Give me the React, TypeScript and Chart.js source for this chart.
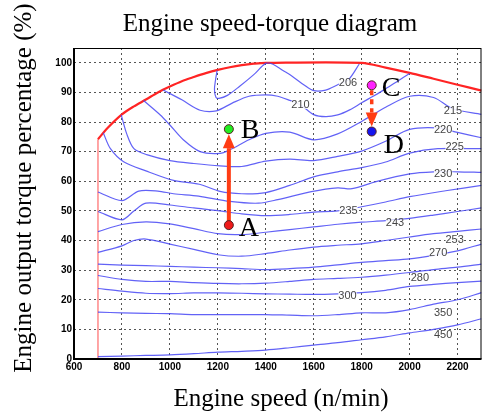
import React, { useEffect, useRef } from 'react';
import { Chart, registerables } from 'chart.js';
Chart.register(...registerables);

const xTicks = [600, 800, 1000, 1200, 1400, 1600, 1800, 2000, 2200];
const yTicks = [0, 10, 20, 30, 40, 50, 60, 70, 80, 90, 100];

const boundary = [[700,74.2],[740,78],[800,82.6],[850,85.3],[900,87.6],[950,90],[1000,92],[1050,93.8],[1100,95.2],[1150,96.5],[1200,97.6],[1250,98.5],[1300,99.2],[1350,99.7],[1400,100],[1800,100],[1900,98.4],[2000,96.6],[2100,94.6],[2200,92.6],[2300,90.6]];
const idleEdge = [[700,0],[700,74.2]];

const c206 = [[1197,97.4],[1190,94],[1186,91],[1192,88.4],[1205,88],[1240,89],[1290,92],[1350,96],[1400,99.8],[1430,99.5],[1470,97.5],[1510,95.5],[1560,92.5],[1600,90.6],[1650,90.8],[1700,92.6],[1745,94.3],[1790,99.6]];
const c210 = [[972,90.8],[1050,87.5],[1126,84],[1194,83.8],[1260,86.4],[1330,88.7],[1400,89.2],[1450,88.7],[1500,87.3],[1545,85.8],[1600,82.5],[1650,81.8],[1700,82.4],[1750,84.1],[1800,86.5],[1850,88.8],[1900,91.2],[1950,93.8],[2000,96.4]];
const c215 = [[890,87.3],[960,82.4],[1000,79],[1056,74],[1126,70],[1209,69.4],[1250,70.6],[1330,74],[1400,76.2],[1500,76.6],[1600,74],[1700,76],[1800,80.2],[1900,85],[2000,88.7],[2100,88.3],[2180,84.5],[2300,82.6]];
const c220 = [[797,82.4],[820,76],[850,71],[903,69],[1000,67],[1100,66],[1209,65.2],[1300,65],[1400,66.8],[1500,67.5],[1600,67],[1700,68.4],[1800,70.2],[1900,73.5],[2000,77.5],[2118,78],[2200,76.5],[2300,74.7]];
const c225 = [[722,76.4],[752,71],[807,66.6],[900,63.5],[1015,60.3],[1123,59],[1209,56.6],[1300,55.8],[1400,56.2],[1500,58.6],[1600,61.5],[1700,63.2],[1800,64.6],[1900,66.5],[2000,69.5],[2118,71],[2300,71]];
const c230 = [[700,56.4],[800,53.5],[870,56.7],[950,56.7],[1015,55.8],[1120,55],[1250,53.2],[1370,52.6],[1450,53.8],[1590,56.5],[1700,57.8],[1760,57.5],[1860,59.9],[2000,62.5],[2100,63.2],[2200,63.2],[2300,63]];
const c235 = [[700,49.8],[800,47],[850,50],[900,52.6],[1000,52],[1100,51],[1200,50.1],[1300,49],[1400,48.4],[1500,48.8],[1600,49.6],[1700,50],[1800,51.4],[1900,53],[2000,54.8],[2150,56.8],[2300,58.6]];
const c243 = [[700,43],[800,45.4],[900,46.3],[1000,45.6],[1100,44],[1200,42.3],[1300,42],[1400,42.8],[1500,43.7],[1600,44.6],[1700,45.5],[1800,46.2],[1900,46.7],[2000,47.5],[2100,48.6],[2200,49.8],[2300,51]];
const c253 = [[700,36],[800,38.2],[850,40],[900,40.5],[1000,38.8],[1100,37],[1200,35.2],[1300,34.7],[1400,35.6],[1500,36.8],[1600,37.8],[1700,38.4],[1800,38.9],[1900,40],[2000,41.2],[2100,42.3],[2200,43.1],[2300,43.9]];
const c270 = [[700,32],[800,31.7],[900,31.5],[1000,31.3],[1100,31],[1200,30.8],[1300,30.5],[1400,30.2],[1500,30.5],[1600,31],[1700,31.8],[1800,32.6],[1900,33.2],[2000,33.8],[2100,35],[2200,36.5],[2300,38.8]];
const c280 = [[700,28.2],[800,26.9],[900,26.2],[1000,26.2],[1100,25.8],[1200,25.5],[1300,25.4],[1400,25.6],[1500,26.2],[1600,26.9],[1700,27.2],[1800,27.6],[1900,28.3],[2000,29.2],[2100,30.2],[2200,31],[2300,32]];
const c300 = [[700,23.8],[800,22.9],[900,22.2],[1000,22.1],[1100,22.3],[1200,22.3],[1300,22.2],[1400,22],[1500,21.9],[1600,21.8],[1700,22],[1800,22.4],[1900,23.2],[2000,24.5],[2100,25.2],[2200,25.8],[2300,26.3]];
const c350 = [[700,15.8],[800,15.6],[900,15.4],[1000,15.3],[1100,15],[1200,15],[1300,15],[1400,15],[1500,14.8],[1600,14.6],[1700,15],[1800,15.6],[1900,15.6],[2000,16.7],[2100,18.5],[2200,20],[2300,22.4]];
const c450 = [[700,0.8],[800,1],[900,1.2],[1000,1.4],[1100,1.8],[1200,2.3],[1300,2.6],[1400,3],[1500,3.8],[1600,4.7],[1700,5.5],[1800,6.5],[1900,7.5],[2000,8.8],[2100,10],[2200,11.5],[2300,13.6]];

const contourLabels: [string, number, number][] = [
  ['206', 1743, 93.2], ['210', 1545, 85.8], ['215', 2181, 83.6], ['220', 2140, 77.3],
  ['225', 2188, 71.7], ['230', 2140, 62.6], ['235', 1745, 50.1], ['243', 1939, 45.8],
  ['253', 2188, 40.1], ['270', 2119, 35.9], ['280', 2043, 27.2], ['300', 1741, 21.2],
  ['350', 2140, 15.7], ['450', 2140, 8.2],
];

const pointA = [1246, 45.2];
const pointB = [1246, 77.6];
const pointC = [1842, 92.4];
const pointD = [1842, 76.8];

const contours = [c206, c210, c215, c220, c225, c230, c235, c243, c253, c270, c280, c300, c350, c450];

const toXY = (a: number[][]) => a.map(([x, y]) => ({ x, y }));

export default function App() {
  const ref = useRef<HTMLCanvasElement>(null);
  useEffect(() => {
    if (!ref.current) return;
    const pointSet = (p: number[], color: string) => ({
      data: toXY([p]), showLine: false, pointRadius: 4.5, pointBackgroundColor: color,
      pointBorderColor: '#552222', pointBorderWidth: 1,
    });
    const lineSet = (a: number[][], color: string, w: number) => ({
      data: toXY(a), showLine: true, pointRadius: 0, borderColor: color, borderWidth: w, tension: 0.3, fill: false,
    });
    const datasets: any[] = [
      pointSet(pointA, '#ee1a1a'),
      pointSet(pointB, '#22ee22'),
      pointSet(pointC, '#ff22ff'),
      pointSet(pointD, '#1515ee'),
      ...contours.map((c) => lineSet(c, 'rgba(70,70,245,0.85)', 1.2)),
      lineSet(boundary, '#ff2424', 2.2),
      { ...lineSet(idleEdge, '#ff9090', 1.6), tension: 0 },
    ];

    const arrowColor = '#ff3c14';
    const annot = {
      id: 'annot',
      afterDatasetDraw(chart: any, args: any) {
        if (args.index !== 4) return;
        const ctx = chart.ctx;
        const xs = chart.scales.x, ys = chart.scales.y;
        ctx.save();
        ctx.font = '11px Arial';
        ctx.textAlign = 'center';
        ctx.textBaseline = 'middle';
        for (const [t, x, y] of contourLabels) {
          const px = xs.getPixelForValue(x), py = ys.getPixelForValue(y);
          const w = ctx.measureText(t).width;
          ctx.fillStyle = 'rgba(255,255,255,0.9)';
          ctx.fillRect(px - w / 2, py - 4, w, 8);
          ctx.fillStyle = '#444';
          ctx.fillText(t, px, py);
        }
        ctx.restore();
        const drawArrow = (from: number[], to: number[], dashed: boolean) => {
          const x1 = xs.getPixelForValue(from[0]), y1 = ys.getPixelForValue(from[1]);
          const x2 = xs.getPixelForValue(to[0]), y2t = ys.getPixelForValue(to[1]);
          const dir = y2t < y1 ? -1 : 1;
          const tipY = y2t - dir * 5;
          const headLen = 14, headW = 6;
          ctx.save();
          ctx.strokeStyle = arrowColor;
          ctx.fillStyle = arrowColor;
          ctx.lineWidth = dashed ? 3.5 : 4;
          if (dashed) ctx.setLineDash([5, 4]);
          ctx.beginPath();
          ctx.moveTo(x1, y1 + dir * (dashed ? 5 : 0));
          ctx.lineTo(x2, tipY - dir * headLen);
          ctx.stroke();
          ctx.setLineDash([]);
          ctx.beginPath();
          ctx.moveTo(x2, tipY);
          ctx.lineTo(x2 - headW, tipY - dir * headLen);
          ctx.lineTo(x2 + headW, tipY - dir * headLen);
          ctx.closePath();
          ctx.fill();
          ctx.restore();
        };
        drawArrow(pointA, pointB, false);
        drawArrow(pointC, pointD, true);
      },
      afterDraw(chart: any) {
        const ctx = chart.ctx;
        const a = chart.chartArea;
        const xs = chart.scales.x, ys = chart.scales.y;
        ctx.save();
        ctx.strokeStyle = '#000';
        ctx.lineWidth = 1;
        ctx.strokeRect(a.left + 0.5, a.top + 0.5, a.right - a.left - 1, a.bottom - a.top - 1);
        ctx.lineWidth = 2;
        ctx.beginPath();
        ctx.moveTo(a.left, a.top);
        ctx.lineTo(a.left, a.bottom);
        ctx.lineTo(a.right, a.bottom);
        ctx.stroke();
        ctx.fillStyle = '#000';
        ctx.font = '28px "Liberation Serif"';
        ctx.textAlign = 'left';
        ctx.textBaseline = 'alphabetic';
        const letters: [string, number[], number, number][] = [
          ['A', pointA, 10, 11], ['B', pointB, 12, 9], ['C', pointC, 10, 11], ['D', pointD, 12, 21],
        ];
        for (const [t, p, dx, dy] of letters) {
          ctx.fillText(t, xs.getPixelForValue(p[0]) + dx, ys.getPixelForValue(p[1]) + dy);
        }
        ctx.font = '25px "Liberation Serif"';
        ctx.textAlign = 'center';
        ctx.fillText('Engine speed-torque diagram', 270, 31);
        ctx.fillText('Engine speed (n/min)', 281, 406);
        ctx.translate(31, 188);
        ctx.rotate(-Math.PI / 2);
        ctx.fillText('Engine output torque percentage (%)', 0, 0);
        ctx.restore();
      },
    };

    const tickFont = { family: 'Arial', size: 10, weight: 'bold' as const };
    const fmt = (v: any) => String(v);
    const chart = new Chart(ref.current, {
      type: 'scatter',
      data: { datasets },
      options: {
        animation: false,
        responsive: false,
        devicePixelRatio: 1,
        layout: { padding: { top: 48, right: 4, left: 0, bottom: 0 } },
        plugins: { legend: { display: false }, tooltip: { enabled: false }, title: { display: false } },
        scales: {
          x: {
            type: 'linear', min: 600, max: 2300,
            afterBuildTicks: (s: any) => { s.ticks = xTicks.map((v) => ({ value: v })); },
            afterFit: (s: any) => { s.height = 55; },
            ticks: { font: tickFont, color: '#000', padding: 2, maxRotation: 0, autoSkip: false, callback: fmt },
            grid: { color: '#555', drawTicks: false, lineWidth: 1 },
            border: { display: false, dash: [2, 3] },
          },
          y: {
            type: 'linear', min: 0, max: 105,
            afterBuildTicks: (s: any) => { s.ticks = yTicks.map((v) => ({ value: v })); },
            afterFit: (s: any) => { s.width = 74; },
            ticks: { font: tickFont, color: '#000', padding: 2, autoSkip: false, callback: fmt },
            grid: { color: '#555', drawTicks: false, lineWidth: 1 },
            border: { display: false, dash: [2, 3] },
          },
        },
      },
      plugins: [annot],
    });
    return () => chart.destroy();
  }, []);
  return (
    <div style={{ position: 'absolute', left: 0, top: 0, width: 487, height: 414, background: '#fff' }}>
      <canvas ref={ref} width={487} height={414} style={{ width: 487, height: 414 }} />
    </div>
  );
}
